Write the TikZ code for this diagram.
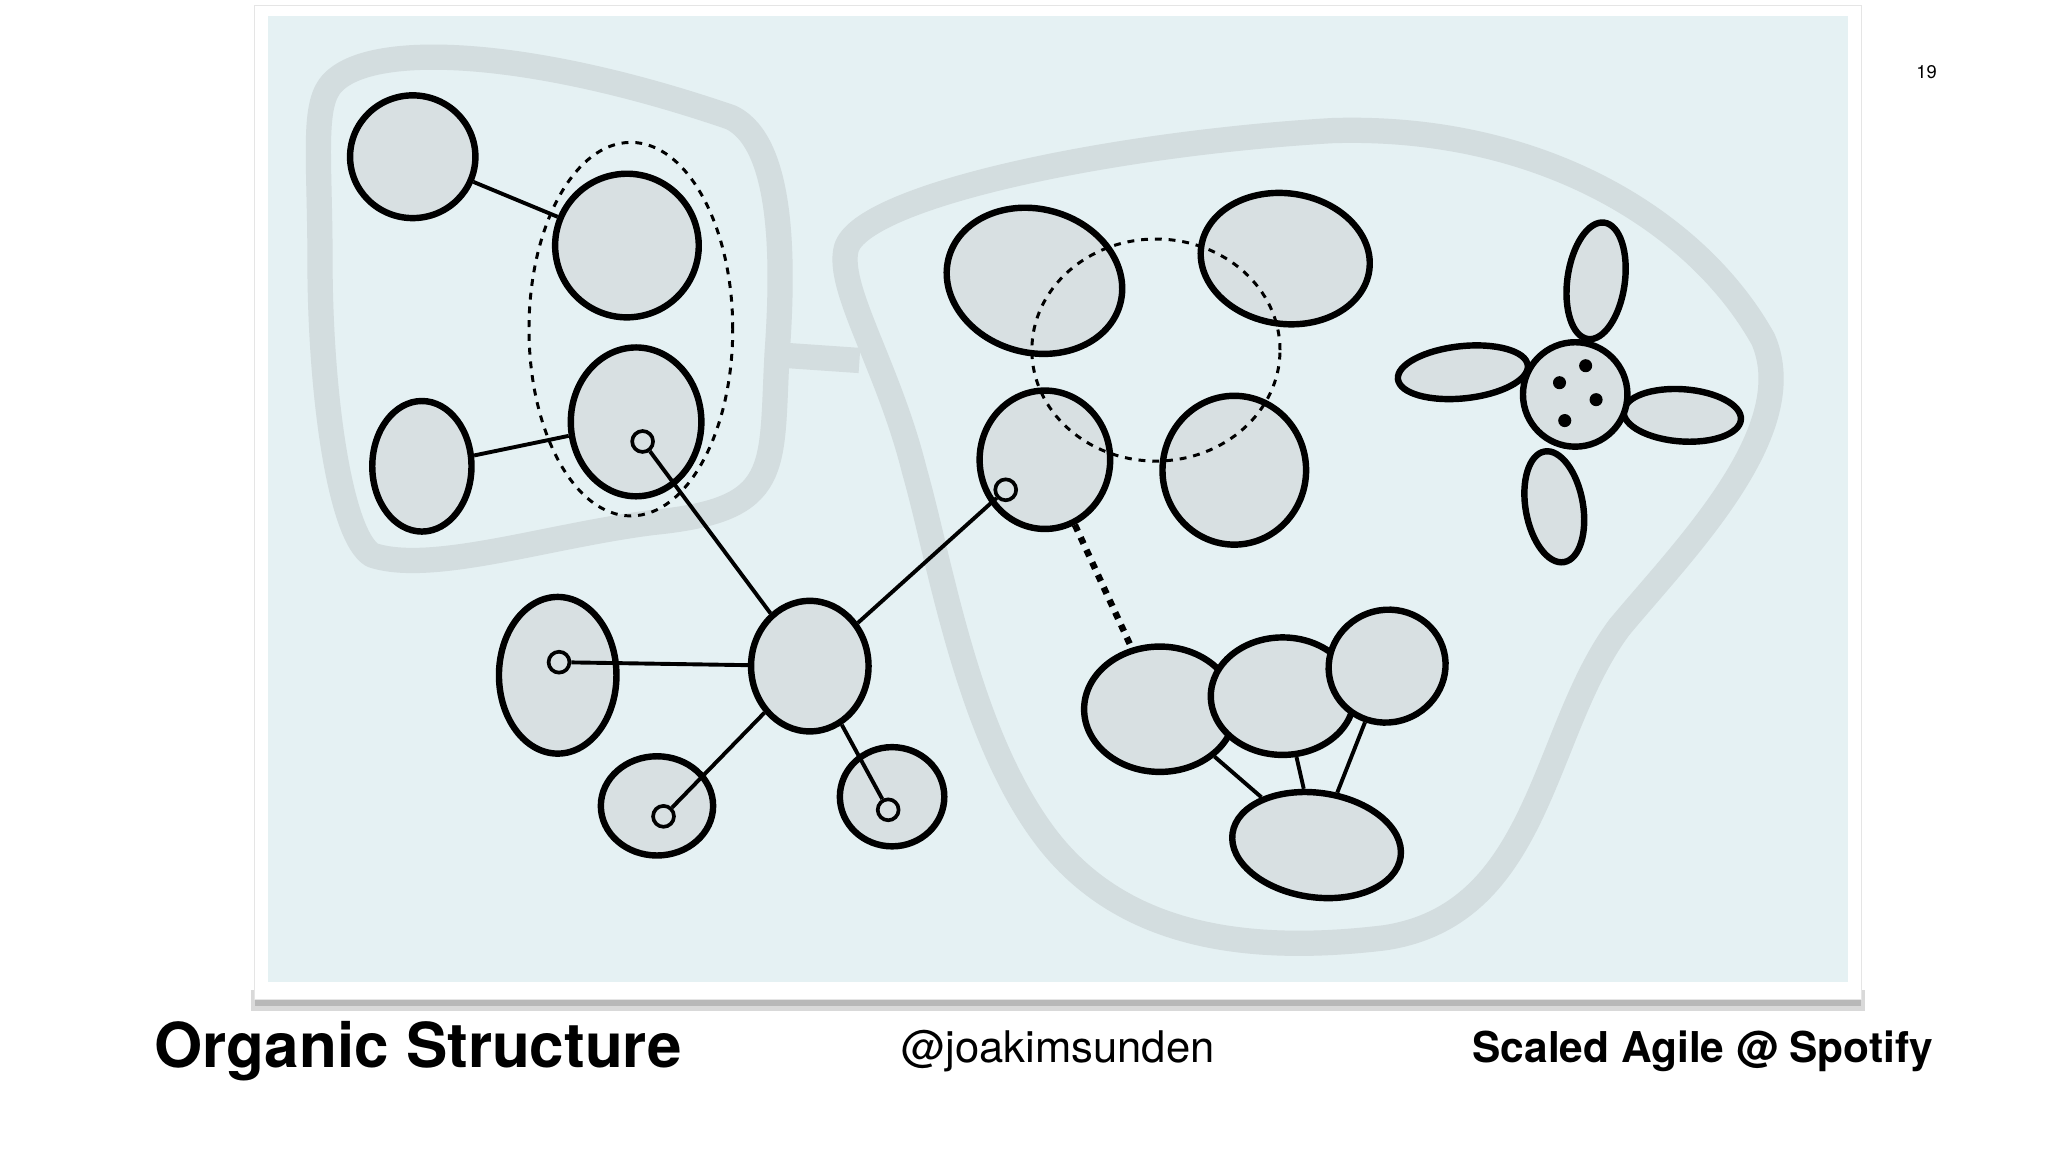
\documentclass[tikz,border=0pt]{standalone}
\usepackage{fontspec}
\setmainfont{TeX Gyre Heros}
\usetikzlibrary{shapes.geometric}
\definecolor{bgc}{HTML}{E5F1F3}
\definecolor{blobc}{HTML}{D8E0E2}
\definecolor{bound}{HTML}{D3DDDF}
\tikzset{
 blob/.style 2 args={ellipse,draw,line width=2.8pt,fill=blobc,minimum width=#1*0.04cm,minimum height=#2*0.04cm,inner sep=0pt},
 dot/.style={circle,draw,line width=1.6pt,fill=blobc,minimum size=0.32cm,inner sep=0pt},
 link/.style={line width=1.7pt},
 bnd/.style={draw=bound,line width=11pt,line join=round}}
\begin{document}
\begin{tikzpicture}[x=0.02cm,y=-0.02cm]
\useasboundingbox (0,0) rectangle (1568,882);
\fill[white] (0,0) rectangle (1568,882);
\fill[black!15] (192,758) rectangle (1428,774);
\fill[black!28] (195,760) rectangle (1425,770);
\fill[white,draw=black!10] (195,4) rectangle (1425,765);
\fill[bgc] (205,12) rectangle (1415,752);
% boundaries
\draw[bnd] (250,70) .. controls (270,30) and (400,35) .. (560,90) .. controls (600,110) and (600,200) .. (595,270)
  .. controls (590,360) and (600,390) .. (500,400) .. controls (420,410) and (330,440) .. (285,425)
  .. controls (260,410) and (245,300) .. (245,200) .. controls (245,130) and (240,90) .. (250,70) -- cycle;
\draw[bnd] (600,272) -- (658,276);
\draw[bnd] (648,190) .. controls (660,150) and (850,110) .. (1020,100) .. controls (1180,95) and (1300,170) .. (1350,260)
  .. controls (1380,330) and (1290,420) .. (1240,480) .. controls (1180,560) and (1180,700) .. (1060,718)
  .. controls (960,730) and (860,720) .. (800,640) .. controls (740,560) and (720,430) .. (700,360)
  .. controls (680,280) and (640,220) .. (648,190) -- cycle;
% blobs
\node[blob={48}{47}] (A) at (316,120) {};
\node[blob={55}{55},rotate=10] (B) at (480,188) {};
\node[blob={38}{50}] (C) at (323,357) {};
\node[blob={50}{57}] (D) at (487,323) {};
\node[blob={45}{60}] (E) at (427,517) {};
\node[blob={45}{50}] (F) at (620,510) {};
\node[blob={43}{38}] (G) at (503,617) {};
\node[blob={40}{38}] (H) at (683,610) {};
\node[blob={68}{55},rotate=-15] (I) at (792,215) {};
\node[blob={65}{50},rotate=-8] (J) at (984,198) {};
\node[blob={50}{53}] (K) at (800,352) {};
\node[blob={55}{57}] (L) at (945,360) {};
\node[blob={58}{48}] (M) at (888,543) {};
\node[blob={55}{45}] (N) at (982,533) {};
\node[blob={45}{43},rotate=20] (O) at (1062,510) {};
\node[blob={65}{40},rotate=-8] (P) at (1008,647) {};
\node[draw,line width=1.3pt,dashed,ellipse,minimum width=156*0.02cm,minimum height=286*0.02cm] (dB) at (483,252) {};
\node[draw,line width=1.3pt,dashed,ellipse,minimum width=190*0.02cm,minimum height=170*0.02cm] (dI) at (885,268) {};
\node[dot] (dD) at (492,338) {};
\node[dot] (dE) at (428,507) {};
\node[dot] (dG) at (508,625) {};
\node[dot] (dH) at (680,620) {};
\node[dot] (dK) at (770,375) {};
% flower
\node[blob={22}{45},rotate=-8] (p1) at (1222,215) {};
\node[blob={50}{20},rotate=6] (p2) at (1120,285) {};
\node[blob={45}{20},rotate=-4] (p3) at (1288,318) {};
\node[blob={22}{43},rotate=10] (p4) at (1190,388) {};
\node[blob={40}{40}] (fc) at (1206,302) {};
\foreach \p in {(1194,293),(1214,280),(1222,306),(1198,322)} \fill \p circle (5);
% links
\draw[link] (A) -- (B);
\draw[link] (C) -- (D);
\draw[link] (dD) -- (F);
\draw[link] (dE) -- (F);
\draw[link] (F) -- (dG);
\draw[link] (F) -- (dH);
\draw[link] (F) -- (dK);
\draw[line width=2.8pt,dashed] (K) -- (M);
\draw[link] (M) -- (P);
\draw[link] (N) -- (P);
\draw[link] (O) -- (P);
% texts
\node[font=\fontsize{8}{9}\selectfont] (pg) at (1475,55) {19};
\node[anchor=west,font=\bfseries\fontsize{27}{30}\selectfont] (t1) at (112,805) {Organic Structure};
\node[font=\fontsize{19}{22}\selectfont] (t2) at (810,805) {@joakimsunden};
\node[anchor=east,font=\bfseries\fontsize{18.5}{22}\selectfont] (t3) at (1486,805) {Scaled Agile @ Spotify};
\end{tikzpicture}
\end{document}
